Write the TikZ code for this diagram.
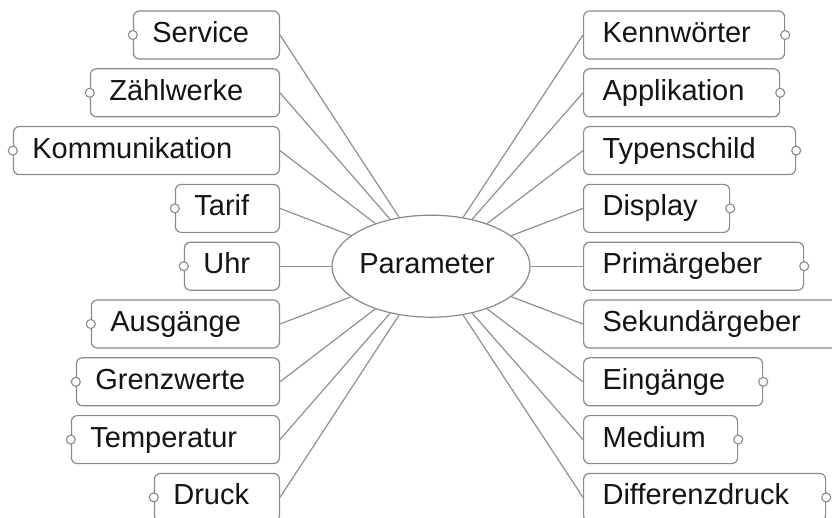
\documentclass[tikz,border=0pt]{standalone}
\usepackage{fontspec}
\setmainfont{Liberation Sans}
\usetikzlibrary{shapes.geometric}

\definecolor{framegray}{HTML}{8A8A8A}
\definecolor{linkgray}{HTML}{909090}
\definecolor{inkblack}{HTML}{141414}

\tikzset{
  topic/.style={draw=framegray, line width=1.2pt, rounded corners=6pt, fill=white,
    inner xsep=19pt, inner ysep=0pt, minimum height=48pt,
    text height=21pt, text depth=6pt, align=left, text=inkblack,
    font=\fontsize{29pt}{34pt}\selectfont},
  lefttopic/.style={topic, anchor=east, text width=#1},
  righttopic/.style={topic, anchor=west, text width=#1},
  toggle/.style={circle, draw=framegray, line width=1.1pt, fill=white,
    minimum size=9pt, inner sep=0pt},
  link/.style={draw=linkgray, line width=1.2pt},
  hub/.style={ellipse, draw=framegray, line width=1.2pt, fill=white,
    minimum width=198pt, minimum height=102pt, inner sep=0pt,
    text height=21pt, text depth=6pt, text=inkblack,
    font=\fontsize{29pt}{34pt}\selectfont}
}

\begin{document}
\begin{tikzpicture}[x=1pt, y=-1pt]
  \useasboundingbox (0,0) rectangle (832,518);
  \fill[white] (0,0) rectangle (832,518);
  \clip (0,0) rectangle (832,518);

  % central topic (label sits a little left of the ellipse centre)
  \node[hub] (hub) at (431,266.2) {\hspace*{-8pt}Parameter};

  % left branch
  \node[lefttopic=108pt] (svc) at (280,35.0)  {Service};
  \node[lefttopic=151pt] (zw)  at (280,92.8)  {Zählwerke};
  \node[lefttopic=228pt] (kom) at (280,150.6) {Kommunikation};
  \node[lefttopic=66pt]  (tar) at (280,208.4) {Tarif};
  \node[lefttopic=57pt]  (uhr) at (280,266.2) {Uhr};
  \node[lefttopic=150pt] (aus) at (280,324.0) {Ausgänge};
  \node[lefttopic=165pt] (gw)  at (280,381.8) {Grenzwerte};
  \node[lefttopic=170pt] (tmp) at (280,439.6) {Temperatur};
  \node[lefttopic=87pt]  (dr)  at (280,497.4) {Druck};

  % right branch
  \node[righttopic=163pt] (kw)  at (583,35.0)  {Kennwörter};
  \node[righttopic=158pt] (app) at (583,92.8)  {Applikation};
  \node[righttopic=174pt] (typ) at (583,150.6) {Typenschild};
  \node[righttopic=108pt] (dsp) at (583,208.4) {Display};
  \node[righttopic=182pt] (pg)  at (583,266.2) {Primärgeber};
  \node[righttopic=224pt] (sg)  at (583,324.0) {Sekundärgeber};
  \node[righttopic=141pt] (ein) at (583,381.8) {Eingänge};
  \node[righttopic=116pt] (med) at (583,439.6) {Medium};
  \node[righttopic=204pt] (dd)  at (583,497.4) {Differenzdruck};

  % expand/collapse handles
  \foreach \t in {svc,zw,kom,tar,uhr,aus,gw,tmp,dr}
    \node[toggle] (h-\t) at (\t.west) {};
  \foreach \t in {kw,app,typ,dsp,pg,ein,med,dd}
    \node[toggle] (h-\t) at (\t.east) {};

  % connectors to the central topic
  \foreach \t in {svc,zw,kom,tar,uhr,aus,gw,tmp,dr}
    \draw[link] (\t.east) -- (hub);
  \foreach \t in {kw,app,typ,dsp,pg,sg,ein,med,dd}
    \draw[link] (\t.west) -- (hub);
\end{tikzpicture}
\end{document}
